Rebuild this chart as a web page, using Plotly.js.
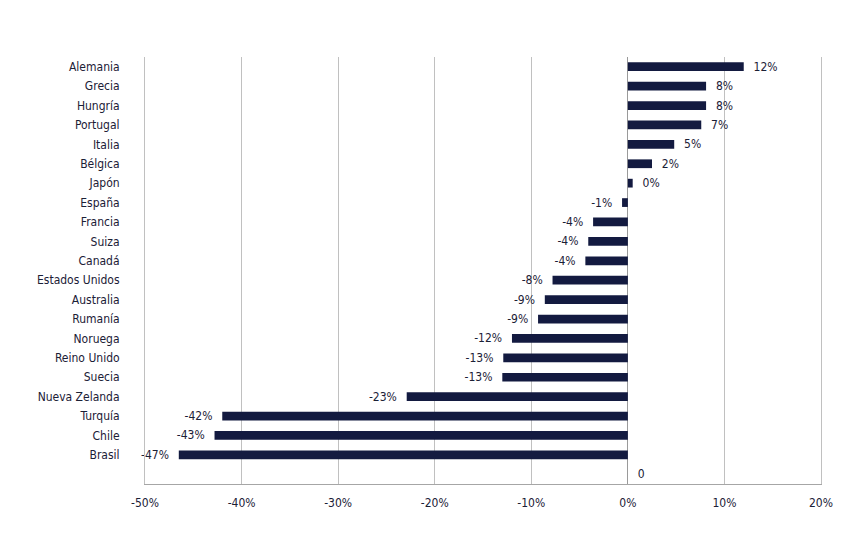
<!DOCTYPE html>
<html>
<head>
<meta charset="utf-8">
<script src="https://cdn.plot.ly/plotly-3.0.1.min.js"></script>
<style>
html, body { margin: 0; padding: 0; background: #fff; }
#chart { width: 867px; height: 542px; }
</style>
</head>
<body>
<div id="chart"></div>
<script>
// countries top to bottom, last row is the empty one with the "0" label
var paises = ["Alemania", "Grecia", "Hungría", "Portugal", "Italia", "Bélgica", "Japón",
    "España", "Francia", "Suiza", "Canadá", "Estados Unidos", "Australia", "Rumanía",
    "Noruega", "Reino Unido", "Suecia", "Nueva Zelanda", "Turquía", "Chile", "Brasil", " "];
var variacion = [0.120, 0.081, 0.081, 0.076, 0.048, 0.025, 0.005,
    -0.006, -0.036, -0.041, -0.044, -0.078, -0.086, -0.093,
    -0.120, -0.129, -0.130, -0.229, -0.420, -0.428, -0.465, 0];
var etiquetas = ["12%", "8%", "8%", "7%", "5%", "2%", "0%",
    "-1%", "-4%", "-4%", "-4%", "-8%", "-9%", "-9%",
    "-12%", "-13%", "-13%", "-23%", "-42%", "-43%", "-47%", "0"];
var x_ticks = [-0.5, -0.4, -0.3, -0.2, -0.1, 0, 0.1, 0.2];
var x_tick_labels = ["-50%", "-40%", "-30%", "-20%", "-10%", "0%", "10%", "20%"];

var fuente = "DejaVu Sans Condensed, Tahoma, sans-serif";
var nb = "\u00a0\u00a0";

// pad the labels away from the bar ends
var textos = []
for (let i = 0; i < etiquetas.length; i++) {
    if (variacion[i] < 0) {
        textos.push(etiquetas[i] + nb)
    } else {
        textos.push(nb + etiquetas[i])
    }
}

var trace = {
    type: 'bar',
    orientation: 'h',
    y: paises,
    x: variacion,
    text: textos,
    textposition: 'outside',
    constraintext: 'none',
    cliponaxis: false,
    textfont: { family: fuente, size: 12, color: '#1b2036' },
    outsidetextfont: { family: fuente, size: 12, color: '#1b2036' },
    marker: { color: '#131a40' },
    hoverinfo: 'none'
};

var layout = {
    width: 867,
    height: 542,
    margin: { l: 145, r: 46, t: 57, b: 58 },
    paper_bgcolor: '#ffffff',
    plot_bgcolor: '#ffffff',
    showlegend: false,
    bargap: 0.55,
    font: { family: fuente, size: 12, color: '#1b2036' },
    xaxis: {
        range: [-0.5, 0.2],
        tickvals: x_ticks,
        ticktext: x_tick_labels,
        showgrid: true,
        gridcolor: '#c0c0c0',
        gridwidth: 1,
        zeroline: true,
        zerolinecolor: '#9a9a9a',
        zerolinewidth: 1,
        showline: true,
        linecolor: '#a6a6a6',
        linewidth: 1,
        ticks: '',
        ticklabelstandoff: 8,
        fixedrange: true
    },
    yaxis: {
        type: 'category',
        autorange: 'reversed',
        showgrid: false,
        zeroline: false,
        showline: true,
        mirror: true,
        linecolor: '#c0c0c0',
        linewidth: 1,
        ticks: '',
        ticklabelstandoff: 22,
        fixedrange: true
    }
};

Plotly.newPlot('chart', [trace], layout, { staticPlot: true, responsive: false });
</script>
</body>
</html>
